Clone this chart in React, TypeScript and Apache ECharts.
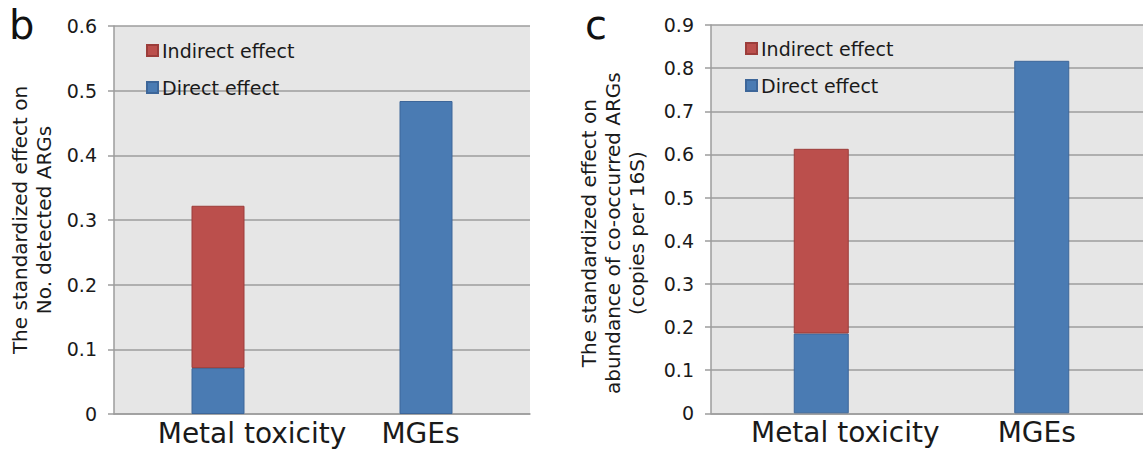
import React, { useEffect, useRef } from "react";
import * as echarts from "echarts";

const categories = ["Metal toxicity", "MGEs"];
const bDirect = [0.071, 0.484];
const bIndirect = [0.251, null];
const cDirect = [0.185, 0.817];
const cIndirect = [0.428, null];
const bTicks = { min: 0, max: 0.6, interval: 0.1 };
const cTicks = { min: 0, max: 0.9, interval: 0.1 };
const legendNames = ["Indirect effect", "Direct effect"];

const BLUE = "#4a7bb3";
const BLUE_B = "#3d6699";
const RED = "#bb4f4c";
const RED_B = "#9c3d3a";
const GRID = "#9d9d9d";
const FONT = "DejaVu Sans";
const TXT = "#1a1a1a";

export default function App() {
  const ref = useRef<HTMLDivElement>(null);
  useEffect(() => {
    const chart = echarts.init(ref.current!, null, { renderer: "svg" });
    const yAxisCommon = (t: any, name: string, gap: number, pad: number[]) => ({
      type: "value",
      min: t.min,
      max: t.max,
      interval: t.interval,
      name,
      nameLocation: "middle",
      nameRotate: 90,
      nameGap: gap,
      nameTextStyle: { fontFamily: FONT, fontSize: 20, color: TXT, lineHeight: 24, padding: pad },
      axisLine: { show: true, lineStyle: { color: GRID, width: 1.5 } },
      axisTick: { show: true, length: 6, lineStyle: { color: GRID, width: 1.5 } },
      axisLabel: {
        fontFamily: FONT,
        fontSize: 19,
        color: TXT,
        margin: 17,
        formatter: (v: number) => (v === 0 ? "0" : String(Math.round(v * 10) / 10)),
      },
      splitLine: { show: true, lineStyle: { color: GRID, width: 1.5 } },
    });
    const xAxisCommon = (grid: number, padA: number, padM: number[]) => ({
      type: "category",
      gridIndex: grid,
      data: categories,
      axisLine: { show: true, lineStyle: { color: GRID, width: 1.5 } },
      axisTick: { show: false },
      axisLabel: {
        interval: 0,
        hideOverlap: false,
        fontFamily: FONT,
        fontSize: 28,
        color: TXT,
        margin: 5,
        formatter: (v: string, i: number) => (i === 0 ? `{a|${v}}` : `{m|${v}}`),
        rich: {
          a: { fontFamily: FONT, fontSize: 28, color: TXT, padding: [0, 0, 0, padA] },
          m: { fontFamily: FONT, fontSize: 28, color: TXT, padding: padM },
        },
      },
    });
    const legendCommon = (left: number, top: number) => ({
      left,
      top,
      padding: 0,
      orient: "vertical",
      data: legendNames,
      icon: "rect",
      itemWidth: 11,
      itemHeight: 11,
      itemGap: 18,
      textStyle: { fontFamily: FONT, fontSize: 19, color: TXT, lineHeight: 19, padding: [0, 0, 0, -1] },
    });
    const bar = (name: string, data: any[], xi: number, color: string, border: string, w: number) => ({
      name,
      type: "bar",
      stack: "s" + xi,
      xAxisIndex: xi,
      yAxisIndex: xi,
      data,
      barWidth: w,
      itemStyle: { color, borderColor: border, borderWidth: 1 },
    });
    chart.setOption({
      animation: false,
      backgroundColor: "#ffffff",
      title: [
        { text: "b", left: 9, top: 5, padding: 0, textStyle: { fontFamily: FONT, fontSize: 40, fontWeight: "normal", color: "#111" } },
        { text: "c", left: 585, top: 5, padding: 0, textStyle: { fontFamily: FONT, fontSize: 40, fontWeight: "normal", color: "#111" } },
      ],
      grid: [
        { left: 114, top: 26, width: 416, height: 388, show: true, backgroundColor: "#e6e6e6", borderWidth: 0 },
        { left: 711, top: 25, width: 441, height: 388.3, show: true, backgroundColor: "#e6e6e6", borderWidth: 0 },
      ],
      legend: [legendCommon(146, 41), legendCommon(745, 39)],
      xAxis: [xAxisCommon(0, 68, [0, 11, 0, 0]), xAxisCommon(1, 48, [0, 10, 0, 0])],
      yAxis: [
        { ...yAxisCommon(bTicks, "The standardized effect on\nNo. detected ARGs", 58, [0, 0, 0, 0]), gridIndex: 0 },
        {
          ...yAxisCommon(cTicks, "The standardized effect on\nabundance of co-occurred ARGs\n(copies per 16S)", 62, [0, 28, 0, 0]),
          gridIndex: 1,
        },
      ],
      series: [
        bar("Direct effect", bDirect, 0, BLUE, BLUE_B, 53),
        bar("Indirect effect", bIndirect, 0, RED, RED_B, 53),
        bar("Direct effect", cDirect, 1, BLUE, BLUE_B, 55),
        bar("Indirect effect", cIndirect, 1, RED, RED_B, 55),
      ],
    });
    return () => chart.dispose();
  }, []);
  return (
    <div style={{ position: "fixed", left: 0, top: 0, width: 1143, height: 453, overflow: "hidden", background: "#fff" }}>
      <div ref={ref} style={{ width: 1160, height: 453 }} />
    </div>
  );
}
